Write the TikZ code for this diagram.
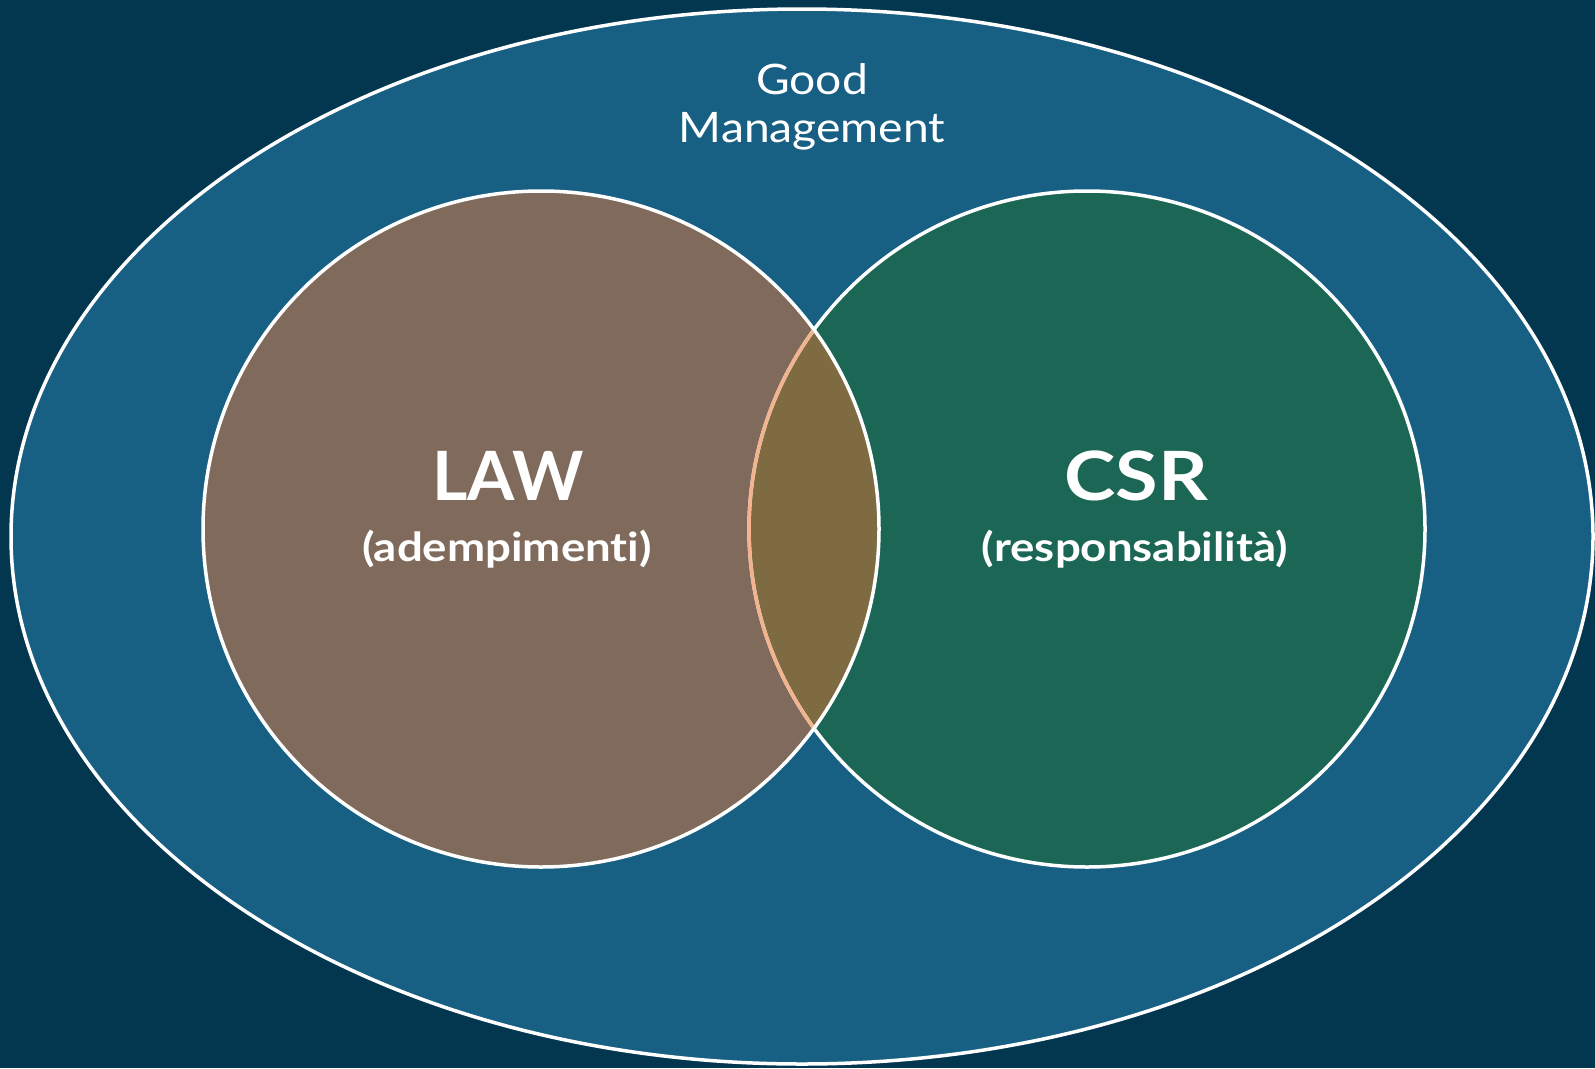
\documentclass[tikz,border=0pt]{standalone}
\usepackage{fontspec}
\setmainfont{Lato}[Ligatures=NoCommon]
\newfontfamily\gmfont{Lato}[FakeStretch=1.1, Ligatures=NoCommon]
\newfontfamily\subfont{Lato}[FakeStretch=1.14, Ligatures=NoCommon]
\newfontfamily\csrfont{Lato}[FakeStretch=1.14, Ligatures=NoCommon]
\definecolor{bgc}{HTML}{03364F}
\definecolor{outerc}{HTML}{176084}
\definecolor{lawc}{HTML}{7F6A5C}
\definecolor{csrc}{HTML}{1B6654}
\definecolor{lensc}{HTML}{7F6B42}
\definecolor{peach}{HTML}{F2B38F}
\tikzset{
  rim/.style={draw=white, line width=3.5pt},
  title/.style={text=white, font=\gmfont\fontsize{42}{48}\selectfont, align=center, inner sep=0pt},
  big/.style={text=white, font=\bfseries\fontsize{68}{70}\selectfont, inner sep=0pt},
  bigw/.style={text=white, font=\csrfont\bfseries\fontsize{68}{70}\selectfont, inner sep=0pt},
  sub/.style={text=white, font=\subfont\bfseries\fontsize{40}{42}\selectfont, inner sep=0pt}
}
\begin{document}
\begin{tikzpicture}[x=1pt,y=-1pt]
\fill[bgc] (0,0) rectangle (1595,1068);
\useasboundingbox (0,0) rectangle (1595,1068);
\coordinate (O) at (802,536.5);
\coordinate (L) at (541,529);
\coordinate (R) at (1087,529);
\path[fill=outerc, rim] (O) ellipse [x radius=791, y radius=527.5];
\fill[lawc] (L) circle [radius=338];
\fill[csrc] (R) circle [radius=338];
\begin{scope}
  \clip (L) circle [radius=338];
  \fill[lensc] (R) circle [radius=338];
\end{scope}
\draw[rim] (L) circle [radius=338];
\draw[rim] (R) circle [radius=338];
\begin{scope}
  \clip (L) circle [radius=336.3];
  \draw[draw=peach, line width=3.5pt] (R) circle [radius=338];
\end{scope}
\node[title] (gm) at (812,107) {Good\\Management};
\node[big] (law) at (508,476) {LAW};
\node[sub] (lawsub) at (507,549) {(adempimenti)};
\node[bigw] (csr) at (1136,476) {CSR};
\node[sub] (csrsub) at (1135,549) {(responsabilità)};
\end{tikzpicture}
\end{document}
